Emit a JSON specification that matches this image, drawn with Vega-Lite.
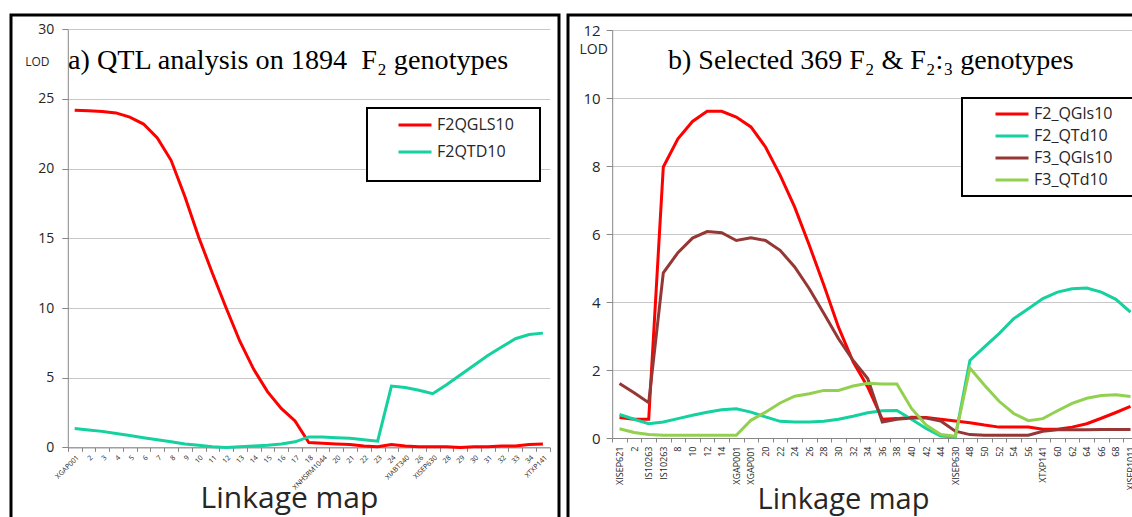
{
  "$schema": "https://vega.github.io/schema/vega-lite/v6.json",
  "padding": {"left": 9, "top": 13, "right": 0, "bottom": 0},
  "background": "white",
  "spacing": 1,
  "config": {
    "view": {"stroke": "black", "strokeWidth": 3},
    "font": "Open Sans",
    "axis": {"domainColor": "#868686", "tickColor": "#868686", "gridColor": "#C8C8C8", "labelColor": "#262626", "titleColor": "#262626", "labelFont": "Open Sans", "titleFont": "Open Sans", "titleFontWeight": "normal"},
    "legend": {"labelFont": "Open Sans", "labelColor": "#262626", "strokeWidth": 2}
  },
  "resolve": {"scale": {"x": "independent", "y": "independent", "color": "independent"}, "legend": {"color": "independent"}},
  "datasets": {
    "a": [
      {"marker": "XGAP001", "series": "F2QGLS10", "lod": 24.2},
      {"marker": "2", "series": "F2QGLS10", "lod": 24.15},
      {"marker": "3", "series": "F2QGLS10", "lod": 24.1},
      {"marker": "4", "series": "F2QGLS10", "lod": 24.0},
      {"marker": "5", "series": "F2QGLS10", "lod": 23.7},
      {"marker": "6", "series": "F2QGLS10", "lod": 23.2},
      {"marker": "7", "series": "F2QGLS10", "lod": 22.2},
      {"marker": "8", "series": "F2QGLS10", "lod": 20.6},
      {"marker": "9", "series": "F2QGLS10", "lod": 18.0},
      {"marker": "10", "series": "F2QGLS10", "lod": 15.1},
      {"marker": "11", "series": "F2QGLS10", "lod": 12.5},
      {"marker": "12", "series": "F2QGLS10", "lod": 10.0},
      {"marker": "13", "series": "F2QGLS10", "lod": 7.6},
      {"marker": "14", "series": "F2QGLS10", "lod": 5.6},
      {"marker": "15", "series": "F2QGLS10", "lod": 4.0},
      {"marker": "16", "series": "F2QGLS10", "lod": 2.8},
      {"marker": "17", "series": "F2QGLS10", "lod": 1.9},
      {"marker": "18", "series": "F2QGLS10", "lod": 0.35},
      {"marker": "XNHSRM1044", "series": "F2QGLS10", "lod": 0.3},
      {"marker": "20", "series": "F2QGLS10", "lod": 0.25},
      {"marker": "21", "series": "F2QGLS10", "lod": 0.2},
      {"marker": "22", "series": "F2QGLS10", "lod": 0.1},
      {"marker": "23", "series": "F2QGLS10", "lod": 0.05},
      {"marker": "24", "series": "F2QGLS10", "lod": 0.2},
      {"marker": "XIABT340", "series": "F2QGLS10", "lod": 0.1},
      {"marker": "26", "series": "F2QGLS10", "lod": 0.05},
      {"marker": "XISEP630", "series": "F2QGLS10", "lod": 0.05},
      {"marker": "28", "series": "F2QGLS10", "lod": 0.05},
      {"marker": "29", "series": "F2QGLS10", "lod": 0.0},
      {"marker": "30", "series": "F2QGLS10", "lod": 0.05},
      {"marker": "31", "series": "F2QGLS10", "lod": 0.05},
      {"marker": "32", "series": "F2QGLS10", "lod": 0.1},
      {"marker": "33", "series": "F2QGLS10", "lod": 0.1},
      {"marker": "34", "series": "F2QGLS10", "lod": 0.2},
      {"marker": "XTXP141", "series": "F2QGLS10", "lod": 0.25},
      {"marker": "XGAP001", "series": "F2QTD10", "lod": 1.35},
      {"marker": "2", "series": "F2QTD10", "lod": 1.25},
      {"marker": "3", "series": "F2QTD10", "lod": 1.15},
      {"marker": "4", "series": "F2QTD10", "lod": 1.0},
      {"marker": "5", "series": "F2QTD10", "lod": 0.85},
      {"marker": "6", "series": "F2QTD10", "lod": 0.7},
      {"marker": "7", "series": "F2QTD10", "lod": 0.55},
      {"marker": "8", "series": "F2QTD10", "lod": 0.4},
      {"marker": "9", "series": "F2QTD10", "lod": 0.25},
      {"marker": "10", "series": "F2QTD10", "lod": 0.15},
      {"marker": "11", "series": "F2QTD10", "lod": 0.05},
      {"marker": "12", "series": "F2QTD10", "lod": 0.0},
      {"marker": "13", "series": "F2QTD10", "lod": 0.05},
      {"marker": "14", "series": "F2QTD10", "lod": 0.1},
      {"marker": "15", "series": "F2QTD10", "lod": 0.15},
      {"marker": "16", "series": "F2QTD10", "lod": 0.25},
      {"marker": "17", "series": "F2QTD10", "lod": 0.4},
      {"marker": "18", "series": "F2QTD10", "lod": 0.75},
      {"marker": "XNHSRM1044", "series": "F2QTD10", "lod": 0.75},
      {"marker": "20", "series": "F2QTD10", "lod": 0.7},
      {"marker": "21", "series": "F2QTD10", "lod": 0.65},
      {"marker": "22", "series": "F2QTD10", "lod": 0.55},
      {"marker": "23", "series": "F2QTD10", "lod": 0.45},
      {"marker": "24", "series": "F2QTD10", "lod": 4.4},
      {"marker": "XIABT340", "series": "F2QTD10", "lod": 4.3},
      {"marker": "26", "series": "F2QTD10", "lod": 4.1},
      {"marker": "XISEP630", "series": "F2QTD10", "lod": 3.85},
      {"marker": "28", "series": "F2QTD10", "lod": 4.5},
      {"marker": "29", "series": "F2QTD10", "lod": 5.2},
      {"marker": "30", "series": "F2QTD10", "lod": 5.9},
      {"marker": "31", "series": "F2QTD10", "lod": 6.6},
      {"marker": "32", "series": "F2QTD10", "lod": 7.2},
      {"marker": "33", "series": "F2QTD10", "lod": 7.8},
      {"marker": "34", "series": "F2QTD10", "lod": 8.1},
      {"marker": "XTXP141", "series": "F2QTD10", "lod": 8.2}
    ],
    "b": [
      {"marker": "XISEP621", "series": "F2_QGls10", "lod": 0.6},
      {"marker": "2", "series": "F2_QGls10", "lod": 0.55},
      {"marker": "IS10263#1", "series": "F2_QGls10", "lod": 0.55},
      {"marker": "IS10263#2", "series": "F2_QGls10", "lod": 7.97},
      {"marker": "8", "series": "F2_QGls10", "lod": 8.8},
      {"marker": "10", "series": "F2_QGls10", "lod": 9.31},
      {"marker": "12", "series": "F2_QGls10", "lod": 9.61},
      {"marker": "14", "series": "F2_QGls10", "lod": 9.61},
      {"marker": "XGAP001#1", "series": "F2_QGls10", "lod": 9.44},
      {"marker": "XGAP001#2", "series": "F2_QGls10", "lod": 9.15},
      {"marker": "20", "series": "F2_QGls10", "lod": 8.56},
      {"marker": "22", "series": "F2_QGls10", "lod": 7.73},
      {"marker": "24", "series": "F2_QGls10", "lod": 6.79},
      {"marker": "26", "series": "F2_QGls10", "lod": 5.67},
      {"marker": "28", "series": "F2_QGls10", "lod": 4.49},
      {"marker": "30", "series": "F2_QGls10", "lod": 3.26},
      {"marker": "32", "series": "F2_QGls10", "lod": 2.24},
      {"marker": "34", "series": "F2_QGls10", "lod": 1.5},
      {"marker": "36", "series": "F2_QGls10", "lod": 0.55},
      {"marker": "38", "series": "F2_QGls10", "lod": 0.57},
      {"marker": "40", "series": "F2_QGls10", "lod": 0.61},
      {"marker": "42", "series": "F2_QGls10", "lod": 0.6},
      {"marker": "44", "series": "F2_QGls10", "lod": 0.55},
      {"marker": "XISEP630", "series": "F2_QGls10", "lod": 0.5},
      {"marker": "48", "series": "F2_QGls10", "lod": 0.45},
      {"marker": "50", "series": "F2_QGls10", "lod": 0.38},
      {"marker": "52", "series": "F2_QGls10", "lod": 0.32},
      {"marker": "54", "series": "F2_QGls10", "lod": 0.32},
      {"marker": "56", "series": "F2_QGls10", "lod": 0.32},
      {"marker": "XTXP141", "series": "F2_QGls10", "lod": 0.26},
      {"marker": "60", "series": "F2_QGls10", "lod": 0.26},
      {"marker": "62", "series": "F2_QGls10", "lod": 0.32},
      {"marker": "64", "series": "F2_QGls10", "lod": 0.42},
      {"marker": "66", "series": "F2_QGls10", "lod": 0.58},
      {"marker": "68", "series": "F2_QGls10", "lod": 0.75},
      {"marker": "XISEP1011", "series": "F2_QGls10", "lod": 0.93},
      {"marker": "XISEP621", "series": "F2_QTd10", "lod": 0.69},
      {"marker": "2", "series": "F2_QTd10", "lod": 0.55},
      {"marker": "IS10263#1", "series": "F2_QTd10", "lod": 0.42},
      {"marker": "IS10263#2", "series": "F2_QTd10", "lod": 0.47},
      {"marker": "8", "series": "F2_QTd10", "lod": 0.57},
      {"marker": "10", "series": "F2_QTd10", "lod": 0.67},
      {"marker": "12", "series": "F2_QTd10", "lod": 0.76},
      {"marker": "14", "series": "F2_QTd10", "lod": 0.83},
      {"marker": "XGAP001#1", "series": "F2_QTd10", "lod": 0.86},
      {"marker": "XGAP001#2", "series": "F2_QTd10", "lod": 0.76},
      {"marker": "20", "series": "F2_QTd10", "lod": 0.62},
      {"marker": "22", "series": "F2_QTd10", "lod": 0.49},
      {"marker": "24", "series": "F2_QTd10", "lod": 0.47},
      {"marker": "26", "series": "F2_QTd10", "lod": 0.47},
      {"marker": "28", "series": "F2_QTd10", "lod": 0.49},
      {"marker": "30", "series": "F2_QTd10", "lod": 0.55},
      {"marker": "32", "series": "F2_QTd10", "lod": 0.64},
      {"marker": "34", "series": "F2_QTd10", "lod": 0.74},
      {"marker": "36", "series": "F2_QTd10", "lod": 0.8},
      {"marker": "38", "series": "F2_QTd10", "lod": 0.81},
      {"marker": "40", "series": "F2_QTd10", "lod": 0.55},
      {"marker": "42", "series": "F2_QTd10", "lod": 0.28},
      {"marker": "44", "series": "F2_QTd10", "lod": 0.06},
      {"marker": "XISEP630", "series": "F2_QTd10", "lod": 0.03},
      {"marker": "48", "series": "F2_QTd10", "lod": 2.28},
      {"marker": "50", "series": "F2_QTd10", "lod": 2.68},
      {"marker": "52", "series": "F2_QTd10", "lod": 3.07},
      {"marker": "54", "series": "F2_QTd10", "lod": 3.51},
      {"marker": "56", "series": "F2_QTd10", "lod": 3.8},
      {"marker": "XTXP141", "series": "F2_QTd10", "lod": 4.1},
      {"marker": "60", "series": "F2_QTd10", "lod": 4.29},
      {"marker": "62", "series": "F2_QTd10", "lod": 4.39},
      {"marker": "64", "series": "F2_QTd10", "lod": 4.41},
      {"marker": "66", "series": "F2_QTd10", "lod": 4.29},
      {"marker": "68", "series": "F2_QTd10", "lod": 4.08},
      {"marker": "XISEP1011", "series": "F2_QTd10", "lod": 3.7},
      {"marker": "XISEP621", "series": "F3_QGls10", "lod": 1.6},
      {"marker": "2", "series": "F3_QGls10", "lod": 1.33},
      {"marker": "IS10263#1", "series": "F3_QGls10", "lod": 1.04},
      {"marker": "IS10263#2", "series": "F3_QGls10", "lod": 4.86},
      {"marker": "8", "series": "F3_QGls10", "lod": 5.45},
      {"marker": "10", "series": "F3_QGls10", "lod": 5.88},
      {"marker": "12", "series": "F3_QGls10", "lod": 6.07},
      {"marker": "14", "series": "F3_QGls10", "lod": 6.04},
      {"marker": "XGAP001#1", "series": "F3_QGls10", "lod": 5.81},
      {"marker": "XGAP001#2", "series": "F3_QGls10", "lod": 5.89},
      {"marker": "20", "series": "F3_QGls10", "lod": 5.81},
      {"marker": "22", "series": "F3_QGls10", "lod": 5.52},
      {"marker": "24", "series": "F3_QGls10", "lod": 5.03},
      {"marker": "26", "series": "F3_QGls10", "lod": 4.39},
      {"marker": "28", "series": "F3_QGls10", "lod": 3.66},
      {"marker": "30", "series": "F3_QGls10", "lod": 2.92},
      {"marker": "32", "series": "F3_QGls10", "lod": 2.28},
      {"marker": "34", "series": "F3_QGls10", "lod": 1.75},
      {"marker": "36", "series": "F3_QGls10", "lod": 0.47},
      {"marker": "38", "series": "F3_QGls10", "lod": 0.55},
      {"marker": "40", "series": "F3_QGls10", "lod": 0.59},
      {"marker": "42", "series": "F3_QGls10", "lod": 0.59},
      {"marker": "44", "series": "F3_QGls10", "lod": 0.5},
      {"marker": "XISEP630", "series": "F3_QGls10", "lod": 0.2},
      {"marker": "48", "series": "F3_QGls10", "lod": 0.1},
      {"marker": "50", "series": "F3_QGls10", "lod": 0.08},
      {"marker": "52", "series": "F3_QGls10", "lod": 0.08},
      {"marker": "54", "series": "F3_QGls10", "lod": 0.08},
      {"marker": "56", "series": "F3_QGls10", "lod": 0.08},
      {"marker": "XTXP141", "series": "F3_QGls10", "lod": 0.2},
      {"marker": "60", "series": "F3_QGls10", "lod": 0.24},
      {"marker": "62", "series": "F3_QGls10", "lod": 0.24},
      {"marker": "64", "series": "F3_QGls10", "lod": 0.24},
      {"marker": "66", "series": "F3_QGls10", "lod": 0.25},
      {"marker": "68", "series": "F3_QGls10", "lod": 0.25},
      {"marker": "XISEP1011", "series": "F3_QGls10", "lod": 0.25},
      {"marker": "XISEP621", "series": "F3_QTd10", "lod": 0.27},
      {"marker": "2", "series": "F3_QTd10", "lod": 0.16},
      {"marker": "IS10263#1", "series": "F3_QTd10", "lod": 0.1},
      {"marker": "IS10263#2", "series": "F3_QTd10", "lod": 0.08},
      {"marker": "8", "series": "F3_QTd10", "lod": 0.08},
      {"marker": "10", "series": "F3_QTd10", "lod": 0.08},
      {"marker": "12", "series": "F3_QTd10", "lod": 0.08},
      {"marker": "14", "series": "F3_QTd10", "lod": 0.08},
      {"marker": "XGAP001#1", "series": "F3_QTd10", "lod": 0.08},
      {"marker": "XGAP001#2", "series": "F3_QTd10", "lod": 0.52},
      {"marker": "20", "series": "F3_QTd10", "lod": 0.76},
      {"marker": "22", "series": "F3_QTd10", "lod": 1.03},
      {"marker": "24", "series": "F3_QTd10", "lod": 1.23},
      {"marker": "26", "series": "F3_QTd10", "lod": 1.3},
      {"marker": "28", "series": "F3_QTd10", "lod": 1.4},
      {"marker": "30", "series": "F3_QTd10", "lod": 1.4},
      {"marker": "32", "series": "F3_QTd10", "lod": 1.53},
      {"marker": "34", "series": "F3_QTd10", "lod": 1.61},
      {"marker": "36", "series": "F3_QTd10", "lod": 1.59},
      {"marker": "38", "series": "F3_QTd10", "lod": 1.59},
      {"marker": "40", "series": "F3_QTd10", "lod": 0.87},
      {"marker": "42", "series": "F3_QTd10", "lod": 0.38},
      {"marker": "44", "series": "F3_QTd10", "lod": 0.1},
      {"marker": "XISEP630", "series": "F3_QTd10", "lod": 0.05},
      {"marker": "48", "series": "F3_QTd10", "lod": 2.06},
      {"marker": "50", "series": "F3_QTd10", "lod": 1.55},
      {"marker": "52", "series": "F3_QTd10", "lod": 1.08},
      {"marker": "54", "series": "F3_QTd10", "lod": 0.72},
      {"marker": "56", "series": "F3_QTd10", "lod": 0.51},
      {"marker": "XTXP141", "series": "F3_QTd10", "lod": 0.57},
      {"marker": "60", "series": "F3_QTd10", "lod": 0.8},
      {"marker": "62", "series": "F3_QTd10", "lod": 1.02},
      {"marker": "64", "series": "F3_QTd10", "lod": 1.17},
      {"marker": "66", "series": "F3_QTd10", "lod": 1.25},
      {"marker": "68", "series": "F3_QTd10", "lod": 1.27},
      {"marker": "XISEP1011", "series": "F3_QTd10", "lod": 1.22}
    ]
  },
  "hconcat": [
    {
      "width": 548,
      "height": 520,
      "data": {"name": "a"},
      "title": {"text": "a) QTL analysis on 1894\u00a0 F₂ genotypes", "anchor": "start", "frame": "group", "dx": 57, "offset": -82, "baseline": "alphabetic", "font": "Liberation Serif", "fontSize": 28.2, "fontWeight": "normal", "color": "black"},
      "mark": {"type": "line", "strokeWidth": 3},
      "encoding": {
        "x": {
          "field": "marker", "type": "nominal", "sort": null,
          "scale": {"type": "band", "range": [56.8, 538.8], "paddingInner": 0, "paddingOuter": 0},
          "axis": {"title": "Linkage map", "titleFontSize": 30, "titleX": 278, "titleY": 60, "titleAlign": "center", "titleBaseline": "alphabetic", "offset": -87.6, "labelAngle": -45, "labelFontSize": 7, "labelPadding": 2, "tickBand": "extent", "tickSize": 4, "grid": false, "labelOverlap": false, "labelBound": false, "labelFlush": false}
        },
        "y": {
          "field": "lod", "type": "quantitative",
          "scale": {"domain": [0, 30], "range": [432.4, 14.3], "nice": false},
          "axis": {"title": "LOD", "titleAngle": 0, "titleX": -31, "titleY": 46, "titleAlign": "center", "titleBaseline": "middle", "titleFontSize": 12, "values": [0, 5, 10, 15, 20, 25, 30], "offset": -56.8, "tickSize": 6, "labelPadding": 8, "labelFontSize": 14, "grid": true}
        },
        "color": {
          "field": "series", "type": "nominal",
          "scale": {"domain": ["F2QGLS10", "F2QTD10"], "range": ["#FF0000", "#14D19F"]},
          "legend": {"orient": "none", "legendX": 356, "legendY": 93, "title": " ", "titleOrient": "bottom", "titleFontSize": 10, "titlePadding": 2, "strokeColor": "black", "fillColor": "white", "padding": 9, "symbolType": "M-3,0H3", "symbolSize": 121, "symbolStrokeWidth": 3, "symbolOffset": 31, "labelOffset": 14, "labelFontSize": 16, "rowPadding": 11, "labelExpr": "datum.label + '\u00a0\u2800'"}
        }
      }
    },
    {
      "width": 600,
      "height": 520,
      "data": {"name": "b"},
      "title": {"text": "b) Selected 369 F₂ & F₂:₃ genotypes", "anchor": "start", "frame": "group", "dx": 100, "offset": -82, "baseline": "alphabetic", "font": "Liberation Serif", "fontSize": 28, "fontWeight": "normal", "color": "black"},
      "mark": {"type": "line", "strokeWidth": 3},
      "encoding": {
        "x": {
          "field": "marker", "type": "nominal", "sort": null,
          "scale": {"type": "band", "range": [44.2, 569.8], "paddingInner": 0, "paddingOuter": 0},
          "axis": {"title": "Linkage map", "titleFontSize": 29, "titleX": 275, "titleY": 70, "titleAlign": "center", "titleBaseline": "alphabetic", "offset": -97, "labelExpr": "isString(datum.value) ? split(datum.value, '#')[0] : ''", "labelAngle": 270, "labelAlign": "right", "labelBaseline": "middle", "labelFontSize": 9, "labelPadding": 4, "tickBand": "extent", "tickSize": 4, "grid": false, "labelOverlap": false, "labelBound": false, "labelFlush": false}
        },
        "y": {
          "field": "lod", "type": "quantitative",
          "scale": {"domain": [0, 12], "range": [423, 15], "nice": false},
          "axis": {"title": "LOD", "titleAngle": 0, "titleX": -19, "titleY": 34, "titleAlign": "center", "titleBaseline": "middle", "titleFontSize": 14, "values": [0, 2, 4, 6, 8, 10, 12], "offset": -44.2, "tickSize": 6, "labelPadding": 6, "labelFontSize": 15, "grid": true}
        },
        "color": {
          "field": "series", "type": "nominal",
          "scale": {"domain": ["F2_QGls10", "F2_QTd10", "F3_QGls10", "F3_QTd10"], "range": ["#FF0000", "#14D19F", "#953735", "#92D050"]},
          "legend": {"orient": "none", "legendX": 394, "legendY": 83, "title": null, "strokeColor": "black", "fillColor": "white", "padding": 8, "symbolType": "M-3,0H3", "symbolSize": 121, "symbolStrokeWidth": 3, "symbolOffset": 34, "labelOffset": 14, "labelFontSize": 16, "rowPadding": 6, "labelExpr": "datum.label + '\u00a0\u00a0\u2800'"}
        }
      }
    }
  ]
}
